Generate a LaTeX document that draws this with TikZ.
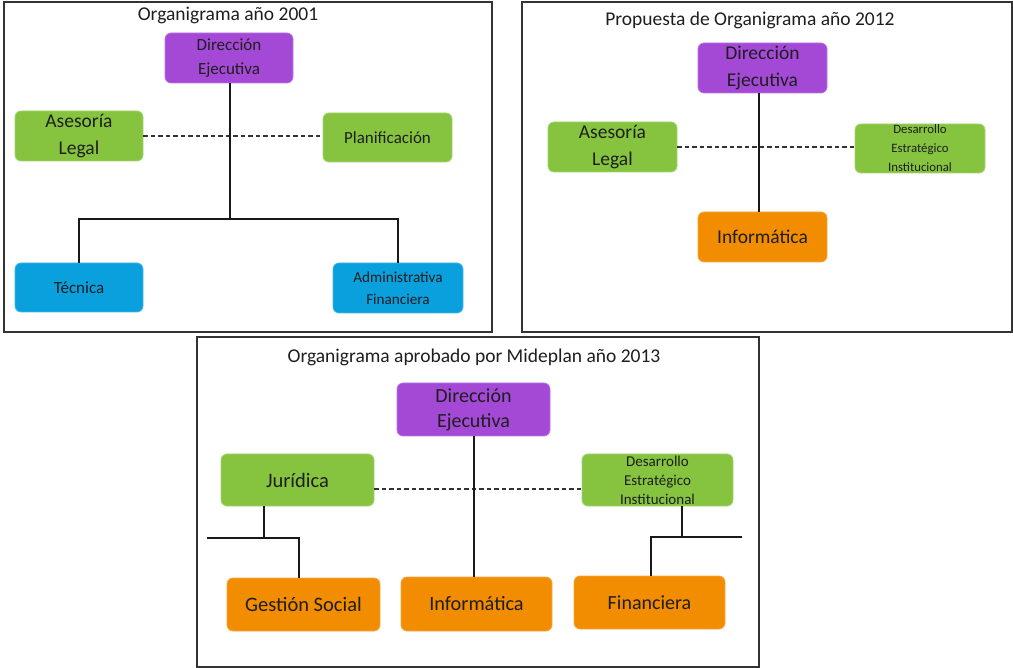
\documentclass[tikz,border=0pt]{standalone}
\usepackage{fontspec}
\setmainfont{Carlito}
\definecolor{morado}{HTML}{A349D6}
\definecolor{verde}{HTML}{86C440}
\definecolor{celeste}{HTML}{0AA0DE}
\definecolor{naranja}{HTML}{F28C00}
\definecolor{tinta}{HTML}{1E1E1E}
\begin{document}
\begin{tikzpicture}[x=1pt,y=-1pt,
  panel/.style={draw=black!80, line width=1.3pt},
  titulo/.style={text=tinta, inner sep=0pt, font=\fontsize{19.5}{22}\selectfont},
  caja/.style={rounded corners=6pt, inner sep=0pt, align=center, text=tinta,
    minimum width=#1, minimum height=50pt},
  caja/.default=129pt,
  dir/.style={caja, fill=morado, draw=morado!75!white, line width=0.8pt},
  ase/.style={caja, fill=verde, draw=verde!75!white, line width=0.8pt},
  tec/.style={caja, fill=celeste, draw=celeste!75!white, line width=0.8pt},
  ope/.style={caja, fill=naranja, draw=naranja!75!white, line width=0.8pt},
  enlace/.style={draw=black!90, line width=1.4pt},
  asesor/.style={draw=black!80, line width=1.1pt, dash pattern=on 4.5pt off 3pt},
  f17/.style={font=\fontsize{17}{24}\selectfont},
  f19/.style={font=\fontsize{19.5}{27}\selectfont},
  f20/.style={font=\fontsize{20}{25}\selectfont},
  f13/.style={font=\fontsize{12.8}{19}\selectfont},
  f15/.style={font=\fontsize{15}{19}\selectfont},
]
\useasboundingbox (0,0) rectangle (1013,668);

% ---- Organigrama 2001 ----
\draw[panel] (4,2) rectangle (492,332);
\node[titulo] (t1) at (228,15) {Organigrama año 2001};
\node[dir, f17, minimum width=128pt] (d1) at (229,58) {Dirección\\Ejecutiva};
\node[ase, f19, minimum width=128pt] (al1) at (79,136) {Asesoría\\Legal};
\node[ase, f17, minimum width=129pt, minimum height=49pt] (pl1) at (387.5,137.5) {Planificación};
\node[tec, f17, minimum width=128pt, minimum height=49pt] (te1) at (79,287.5) {Técnica};
\node[tec, font=\fontsize{15.2}{22}\selectfont, minimum width=130pt] (ad1) at (398,288) {Administrativa\\Financiera};
\coordinate (r1) at (230,219);
\draw[asesor] (al1.east) -- (al1.east -| pl1.west);
\draw[enlace] (d1.south -| r1) -- (r1);
\draw[enlace] (te1.north) -- (te1.north |- r1) -- (ad1.north |- r1) -- (ad1.north);

% ---- Propuesta 2012 ----
\draw[panel] (522,2) rectangle (1012,332);
\node[titulo] (t2) at (750,20) {Propuesta de Organigrama año 2012};
\node[dir, f19, minimum width=129pt] (d2) at (762.5,68) {Dirección\\Ejecutiva};
\node[ase, f19, minimum width=129pt] (al2) at (612.5,147) {Asesoría\\Legal};
\node[ase, f13, minimum width=130pt, minimum height=49pt] (de2) at (920,148.5) {Desarrollo\\Estratégico\\Institucional};
\node[ope, f19, minimum width=129pt] (in2) at (762.5,237) {Informática};
\coordinate (r2) at (759,0);
\draw[asesor] (al2.east) -- (al2.east -| de2.west);
\draw[enlace] (d2.south -| r2) -- (in2.north -| r2);

% ---- Aprobado 2013 ----
\draw[panel] (197,337) rectangle (759,667);
\node[titulo] (t3) at (474,357) {Organigrama aprobado por Mideplan año 2013};
\node[dir, f20, minimum width=153pt, minimum height=53pt] (d3) at (473.5,409.5) {Dirección\\Ejecutiva};
\node[ase, font=\fontsize{20.5}{25}\selectfont, minimum width=153pt, minimum height=52pt] (ju3) at (297.5,480) {Jurídica};
\node[ase, f15, minimum width=151pt, minimum height=52pt] (de3) at (657.5,480) {Desarrollo\\Estratégico\\Institucional};
\node[ope, font=\fontsize{20.5}{25}\selectfont, minimum width=153pt, minimum height=53pt] (gs3) at (303.5,604.5) {Gestión Social};
\node[ope, font=\fontsize{20.3}{25}\selectfont, minimum width=151pt, minimum height=54pt] (in3) at (476.5,604) {Informática};
\node[ope, f20, minimum width=151pt, minimum height=53pt] (fi3) at (649.5,602.5) {Financiera};
\coordinate (da) at (374,489);
\coordinate (db) at (582,489);
\draw[asesor] (da) -- (db);
\coordinate (r3) at (474,0);
\draw[enlace] (d3.south -| r3) -- (in3.north -| r3);
% Jurídica -> Gestión Social
\coordinate (ja) at (264,538);
\coordinate (jl) at (207,538);
\coordinate (jr) at (299,538);
\draw[enlace] (ju3.south -| ja) -- (ja);
\draw[enlace] (jl) -- (jr) -- (gs3.north -| jr);
% Desarrollo -> Financiera
\coordinate (fa) at (682,537);
\coordinate (fl) at (651,537);
\coordinate (fr) at (742,537);
\draw[enlace] (de3.south -| fa) -- (fa);
\draw[enlace] (fr) -- (fl) -- (fi3.north -| fl);
\end{tikzpicture}
\end{document}
